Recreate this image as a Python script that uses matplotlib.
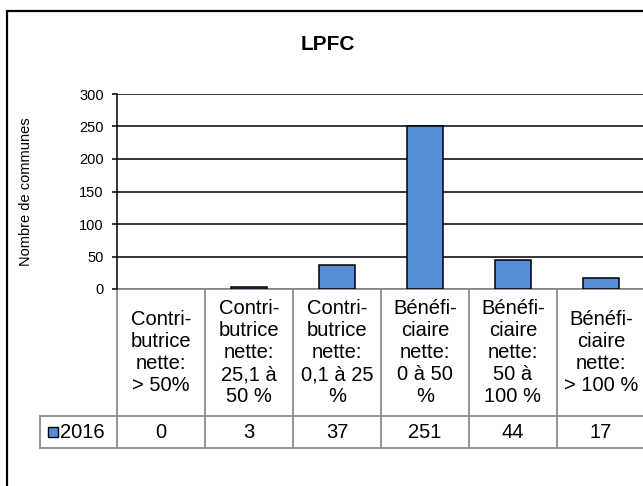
import matplotlib.pyplot as plt
from matplotlib.patches import Rectangle
from matplotlib.transforms import blended_transform_factory

plt.rcParams['font.family'] = ['Liberation Sans', 'DejaVu Sans']

# Données LPFC 2016
categories = [
    "Contri-\nbutrice\nnette:\n> 50%",
    "Contri-\nbutrice\nnette:\n25,1 à\n50 %",
    "Contri-\nbutrice\nnette:\n0,1 à 25\n%",
    "Bénéfi-\nciaire\nnette:\n0 à 50\n%",
    "Bénéfi-\nciaire\nnette:\n50 à\n100 %",
    "Bénéfi-\nciaire\nnette:\n> 100 %",
]
series_name = "2016"
values = [0, 3, 37, 251, 44, 17]
yticks = [0, 50, 100, 150, 200, 250, 300]

W, H = 643, 486
fig = plt.figure(figsize=(W / 100, H / 100), dpi=100)

# cadre extérieur du graphique
fig.patches.append(Rectangle((6.5 / W, -0.1), 1.2, 1 - 11 / H + 0.1,
                             transform=fig.transFigure, fill=False,
                             edgecolor='black', linewidth=1.6))

ax_left, ax_right, ax_top, ax_bot = 117, 645, 94, 289
ax = fig.add_axes([ax_left / W, 1 - ax_bot / H,
                   (ax_right - ax_left) / W, (ax_bot - ax_top) / H])

x = list(range(len(values)))
bar_color = '#558ED5'
# Excel ne trace pas de contour pour une barre nulle
edge_widths = [1.1 if v > 0 else 0 for v in values]
ax.bar(x, values, width=0.4, color=bar_color, edgecolor='black',
       linewidth=edge_widths, zorder=3)

ax.set_xlim(-0.5, len(values) - 0.5)
ax.set_ylim(0, 300)
ax.set_yticks(yticks)
ax.set_xticks([])
ax.yaxis.grid(True, color='black', linewidth=1.1)
ax.set_axisbelow(True)
for side in ['top', 'right', 'bottom']:
    ax.spines[side].set_visible(False)
ax.spines['left'].set_linewidth(1.1)
ax.tick_params(axis='y', direction='out', length=3.5, width=1.1, labelsize=10.5, pad=6)
ax.set_ylabel('Nombre de communes', fontsize=10.5)
ax.yaxis.set_label_coords((33 - ax_left) / (ax_right - ax_left), 0.5)

fig.text(328 / W, 1 - 45 / H, 'LPFC', ha='center', va='center',
         fontsize=15, fontweight='bold')

# table de données sous l'axe
trans = blended_transform_factory(ax.transData, ax.transAxes)
row1 = -(416 - ax_bot) / (ax_bot - ax_top)
row2 = -(448 - ax_bot) / (ax_bot - ax_top)
head_left = -0.5 - (ax_left - 40) / 88
grey = '#8c8c8c'
lw = 1.3
n = len(values)
ax.plot([-0.5, n - 0.5], [0, 0], transform=trans, color=grey, lw=lw, clip_on=False)
ax.plot([head_left, n - 0.5], [row1, row1], transform=trans, color=grey, lw=lw, clip_on=False)
ax.plot([head_left, n - 0.5], [row2, row2], transform=trans, color=grey, lw=lw, clip_on=False)
ax.plot([head_left, head_left], [row1, row2], transform=trans, color=grey, lw=lw, clip_on=False)
for i in range(n + 1):
    ax.plot([i - 0.5, i - 0.5], [0, row2], transform=trans,
            color=grey, lw=lw, clip_on=False)

for i, (cat, v) in enumerate(zip(categories, values)):
    ax.text(i, row1 / 2, cat, transform=trans, ha='center', va='center',
            fontsize=14.5, linespacing=1.2, clip_on=False)
    ax.text(i, (row1 + row2) / 2, str(v), transform=trans, ha='center', va='center',
            fontsize=14.5, clip_on=False)

# clé de légende dans l'en-tête de ligne
key_x = head_left + 8 / 88
key_h = 10 / (ax_bot - ax_top)
ax.add_patch(Rectangle((key_x, (row1 + row2) / 2 - key_h / 2), 10 / 88, key_h,
                       transform=trans, facecolor=bar_color, edgecolor='black',
                       linewidth=1.0, clip_on=False))
ax.text(key_x + 12 / 88, (row1 + row2) / 2, series_name, transform=trans,
        ha='left', va='center', fontsize=14.5, clip_on=False)

fig.savefig('out.png', dpi=100)
